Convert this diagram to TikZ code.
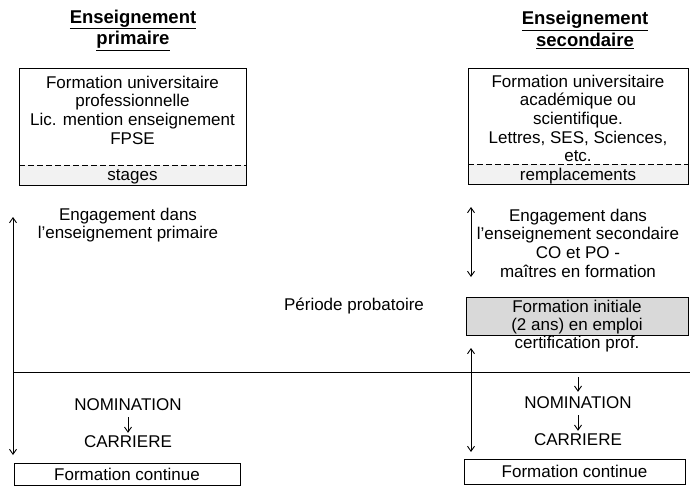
\documentclass[tikz,border=0pt]{standalone}
\usepackage{fontspec}
\setmainfont{Liberation Sans}
\usetikzlibrary{arrows.meta}
\begin{document}
\begin{tikzpicture}[x=1pt,y=-1pt,
  txt/.style={align=center,inner sep=0pt,font=\fontsize{17}{18.7}\selectfont},
  ttl/.style={align=center,inner sep=0pt,font=\fontsize{18.5}{21.5}\selectfont\bfseries},
  boxline/.style={line width=0.9pt},
  divline/.style={line width=0.9pt,dash pattern=on 6pt off 3pt},
  lightspeck/.style={fill=black!5},
  darkspeck/.style={fill=black!15},
  conn/.style={line width=0.9pt,-{Straight Barb[length=5pt,width=7pt]}},
  dconn/.style={line width=0.9pt,{Straight Barb[length=5pt,width=7pt]}-{Straight Barb[length=5pt,width=7pt]}}
]
\useasboundingbox (0,0) rectangle (690,487);

% Titles
\node[ttl] (tl) at (133,30) {\underline{Enseignement}\\\underline{primaire}};
\node[ttl] (tr) at (585,30) {\underline{Enseignement}\\\underline{secondaire}};

% Left university box
\fill[lightspeck] (19,165) rectangle (246,185);
\draw[boxline] (19,68) rectangle (246,185);
\draw[divline] (19,165) -- (246,165);
\node[txt] (lfu) at (132.5,110) {Formation universitaire\\professionnelle\\Lic. mention enseignement\\FPSE};
\node[txt] (lst) at (132.5,177) {stages};

% Right university box
\fill[lightspeck] (468,164) rectangle (688,184);
\draw[boxline] (468,68) rectangle (688,184);
\draw[divline] (468,164) -- (688,164);
\node[txt] (rfu) at (578,118.5) {Formation universitaire\\acad\'emique ou\\scientifique.\\Lettres, SES, Sciences,\\etc.};
\node[txt] (rrp) at (578,176) {remplacements};

% Engagement texts
\node[txt] (leng) at (128,225) {Engagement dans\\l'enseignement primaire};
\node[txt] (reng) at (578,243) {Engagement dans\\l'enseignement secondaire\\CO et PO -\\ma\^itres en formation};

% Left long arrow
\coordinate (la1) at (13,217);
\coordinate (la2) at (13,455);
\draw[dconn] (la1) -- (la2);

% Right arrows
\coordinate (ra1) at (471,207);
\coordinate (ra2) at (471,277);
\draw[dconn] (ra1) -- (ra2);
\coordinate (ra3) at (471,348);
\coordinate (ra4) at (471,452);
\draw[dconn] (ra3) -- (ra4);

% Periode probatoire
\node[txt] (pp) at (354,306) {P\'eriode probatoire};

% Formation initiale box
\node[draw,boxline,darkspeck,minimum width=222pt,minimum height=38pt,inner sep=0pt] (fi) at (577,316) {};
\node[txt] (fit) at (577,317) {Formation initiale\\(2 ans) en emploi};
\node[txt] (cert) at (577,344) {certification prof.};

% Horizontal line
\coordinate (h1) at (13,372);
\coordinate (h2) at (690,372);
\draw[line width=0.9pt] (h1) -- (h2);

% Nomination / Carriere
\node[txt] (lnom) at (128,405) {NOMINATION};
\node[txt] (lcar) at (128,442) {CARRIERE};
\draw[conn,shorten <=6pt,shorten >=3pt] (lnom.south) -- (lcar.north);

\coordinate (rtop) at (578,377);
\node[txt] (rnom) at (578,403) {NOMINATION};
\node[txt] (rcar) at (578,440) {CARRIERE};
\draw[conn,shorten >=5pt] (rtop) -- (rnom.north);
\draw[conn,shorten <=6pt,shorten >=3pt] (rnom.south) -- (rcar.north);

% Formation continue boxes
\node[draw,boxline,minimum width=226pt,minimum height=22pt,inner sep=0pt,font=\fontsize{17}{18.7}\selectfont] (lfc) at (127,474) {Formation continue};
\node[draw,boxline,minimum width=221pt,minimum height=25pt,inner sep=0pt,font=\fontsize{17}{18.7}\selectfont] (rfc) at (574.5,471.5) {Formation continue};
\end{tikzpicture}
\end{document}
